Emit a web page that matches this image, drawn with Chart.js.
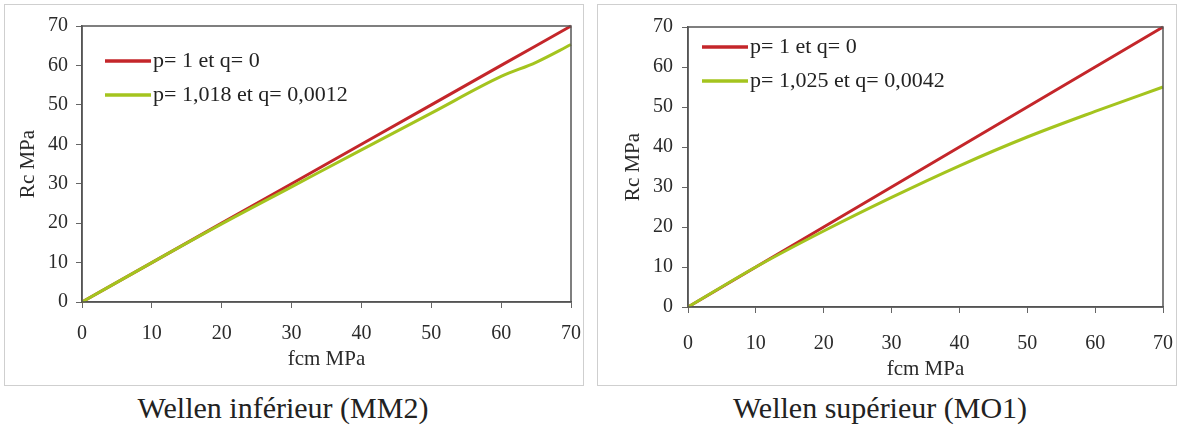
<!DOCTYPE html>
<html lang="fr">
<head>
    <meta charset="UTF-8">
    <title>Rc - fcm</title>
    <script src="https://cdn.jsdelivr.net/npm/chart.js"></script>
    <style>
        body { margin: 0; background: #fff; width: 1178px; height: 430px; position: relative; overflow: hidden; }
        .panel { position: absolute; border: 1px solid #cfcfcf; overflow: hidden; background: #fff; }
        .panel canvas { position: absolute; left: 0; top: 0; }
        .caption { position: absolute; top: 391px; font-family: "Liberation Serif", serif; font-size: 30px; color: #222; white-space: nowrap; transform: translateX(-50%); }
    </style>
</head>
<body>
    <div class="panel" id="p1" style="left:4px; top:4px; width:578px; height:380px;">
        <div style="position:absolute; left:0; top:0; width:600px; height:380px;"><canvas id="chart1"></canvas></div>
    </div>
    <div class="panel" id="p2" style="left:597px; top:4px; width:578px; height:380px;">
        <div style="position:absolute; left:0; top:0; width:578px; height:380px;"><canvas id="chart2"></canvas></div>
    </div>
    <div class="caption" style="left:283px;">Wellen inférieur (MM2)</div>
    <div class="caption" style="left:880px;">Wellen supérieur (MO1)</div>

    <script>
        // data
        const fcmLeft = [0, 10, 20, 30, 40, 50, 60, 65, 70];
        const redLeft = [0, 10, 20, 30, 40, 50, 60, 65, 70];
        const greenLeft = [0, 10, 19.8, 29.2, 38.6, 47.9, 57.2, 60.8, 65.3];

        const fcmRight = [0, 10, 20, 30, 40, 50, 60, 70];
        const redRight = [0, 10, 20, 30, 40, 50, 60, 70];
        const greenRight = [0, 10, 19.0, 27.4, 35.3, 42.5, 48.9, 55];

        const ticks = [0, 10, 20, 30, 40, 50, 60, 70];
        const labelsLeft = ['p= 1 et q= 0', 'p= 1,018 et q= 0,0012'];
        const labelsRight = ['p= 1 et q= 0', 'p= 1,025 et q= 0,0042'];

        const RED = '#c4262a';
        const GREEN = '#a4c41e';
        const FONT = '"Liberation Serif", serif';

        function pts(xs, ys) {
            return xs.map((x, i) => ({ x: x, y: ys[i] }));
        }

        // frame around the plot + legend inside it
        const framePlugin = {
            id: 'frame',
            afterDatasetsDraw(chart, args, opts) {
                const a = chart.chartArea;
                const ctx = chart.ctx;
                ctx.save();
                ctx.strokeStyle = '#555';
                ctx.lineWidth = 1.5;
                ctx.strokeRect(a.left, a.top, a.right - a.left, a.bottom - a.top);
                // legend
                ctx.font = '22px ' + FONT;
                ctx.textBaseline = 'middle';
                ctx.fillStyle = '#222';
                chart.data.datasets.forEach((ds, i) => {
                    const y = opts.y + i * 34;
                    ctx.strokeStyle = ds.borderColor;
                    ctx.lineWidth = 3.5;
                    ctx.beginPath();
                    ctx.moveTo(opts.x, y);
                    ctx.lineTo(opts.x + 46, y);
                    ctx.stroke();
                    ctx.fillText(ds.label, opts.x + 48, y);
                });
                ctx.restore();
            }
        };

        function makeChart(id, xs, red, green, labels, L) {
            const ctx = document.getElementById(id);
            return new Chart(ctx, {
                type: 'line',
                data: {
                    datasets: [
                        { label: labels[0], data: pts(xs, red), borderColor: RED, borderWidth: 3, pointRadius: 0, order: 1, clip: false },
                        { label: labels[1], data: pts(xs, green), borderColor: GREEN, borderWidth: 3, pointRadius: 0, order: 0, clip: false, cubicInterpolationMode: 'monotone' }
                    ]
                },
                options: {
                    responsive: true,
                    maintainAspectRatio: false,
                    animation: false,
                    layout: { padding: { top: L.top, right: L.right, left: 0, bottom: 0 } },
                    plugins: {
                        legend: { display: false },
                        tooltip: { enabled: false },
                        frame: { x: L.legX, y: L.legY }
                    },
                    scales: {
                        x: {
                            type: 'linear', min: 0, max: 70,
                            afterBuildTicks: (s) => { s.ticks = ticks.map(v => ({ value: v })); },
                            afterFit: (s) => { s.height = L.xh; s.paddingLeft = 0; s.paddingRight = 0; },
                            grid: { display: true, drawOnChartArea: false, drawTicks: true, tickLength: 6, color: '#666' },
                            border: { display: true, color: '#555', width: 1.5 },
                            ticks: { padding: L.xpad, color: '#2a2a2a', font: { family: FONT, size: 20 }, maxRotation: 0 },
                            title: { display: true, text: 'fcm MPa', color: '#2a2a2a', font: { family: FONT, size: 21 }, padding: { top: 0, bottom: L.xtb } }
                        },
                        y: {
                            type: 'linear', min: 0, max: 70,
                            afterBuildTicks: (s) => { s.ticks = ticks.map(v => ({ value: v })); },
                            afterFit: (s) => { s.width = L.yw; s.paddingTop = 0; s.paddingBottom = 0; },
                            grid: { display: true, drawOnChartArea: false, drawTicks: true, tickLength: 6, color: '#666' },
                            border: { display: true, color: '#555', width: 1.5 },
                            ticks: { padding: L.ypad, color: '#2a2a2a', font: { family: FONT, size: 20 } },
                            title: { display: true, text: 'Rc MPa', color: '#2a2a2a', font: { family: FONT, size: 21 }, padding: { top: L.ytp, bottom: 0 } }
                        }
                    }
                },
                plugins: [framePlugin]
            });
        }

        // canvas needs the font loaded before drawing
        document.fonts.load('20px "Liberation Serif"').then(() => {
            makeChart('chart1', fcmLeft, redLeft, greenLeft, labelsLeft,
                { top: 21, right: 34, yw: 77, xh: 83, xpad: 14, xtb: 13, ypad: 8, ytp: 11, legX: 100, legY: 56 });
            makeChart('chart2', fcmRight, redRight, greenRight, labelsRight,
                { top: 22, right: 13, yw: 90, xh: 78, xpad: 19, xtb: 3, ypad: 9, ytp: 23, legX: 104, legY: 42 });
        });
    </script>
</body>
</html>
